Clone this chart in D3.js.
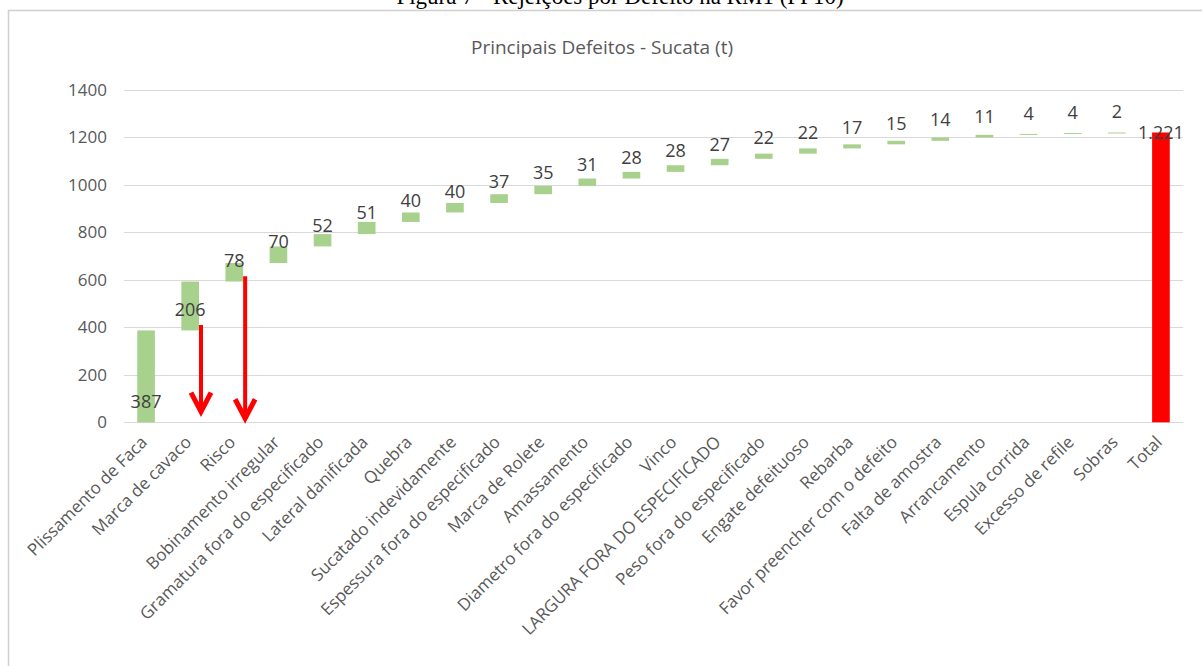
<!DOCTYPE html>
<html>
<head>
<meta charset="utf-8">
<script src="https://cdn.jsdelivr.net/npm/d3@7"></script>
<style>
  body { margin: 0; background: #fff; }
  svg { display: block; }
  .grid line { stroke: #d9d9d9; stroke-width: 1; }
  .tick-label { fill: #595959; font-family: "Open Sans", sans-serif; }
  .value { fill: #404040; font-family: "Open Sans", sans-serif; font-size: 18px; }
  .caption { font-family: "Liberation Serif", "Times New Roman", serif; font-size: 23px; fill: #000; }
</style>
</head>
<body>
<svg id="chart"></svg>
<script>
  //begin: data
  var categories = ["Plissamento de Faca", "Marca de cavaco", "Risco", "Bobinamento irregular",
    "Gramatura fora do especificado", "Lateral danificada", "Quebra", "Sucatado indevidamente",
    "Espessura fora do especificado", "Marca de Rolete", "Amassamento", "Diametro fora do especificado",
    "Vinco", "LARGURA FORA DO ESPECIFICADO", "Peso fora do especificado", "Engate defeituoso",
    "Rebarba", "Favor preencher com o defeito", "Falta de amostra", "Arrancamento",
    "Espula corrida", "Excesso de refile", "Sobras"];
  var values = [387, 206, 78, 70, 52, 51, 40, 40, 37, 35, 31, 28, 28, 27, 22, 22, 17, 15, 14, 11, 4, 4, 2];
  var totalLabel = "Total";
  var yTicks = [0, 200, 400, 600, 800, 1000, 1200, 1400];
  // red annotation arrows: category, start value, end value
  var arrowCats = ["Marca de cavaco", "Risco"];
  var arrowFrom = [410, 615];
  var arrowTo = [45, 17];
  //end: data

  //begin: layout conf.
  var svgWidth = 1202,
      svgHeight = 666,
      plotLeft = 124,
      plotRight = 1183,
      plotTop = 90,
      plotBottom = 422.3;
  //end: layout conf.

  var svg = d3.select("#chart")
    .attr("width", svgWidth)
    .attr("height", svgHeight);

  // cumulative bases
  var rows = [], running = 0;
  values.forEach(function(v, i) {
    rows.push({name: categories[i], base: running, top: running + v, value: v});
    running += v;
  });
  var total = running;

  var x = d3.scaleBand()
    .domain(categories.concat([totalLabel]))
    .range([plotLeft, plotRight])
    .paddingInner(0.6)
    .paddingOuter(0.3);

  var y = d3.scaleLinear()
    .domain([0, 1400])
    .range([plotBottom, plotTop]);

  // caption above the chart box (cut by the page top, as in the source)
  svg.append("text")
    .classed("caption", true)
    .attr("x", 620)
    .attr("y", 4)
    .attr("text-anchor", "middle")
    .text("Figura 7 - Rejeições por Defeito na RM1 (PP10)");

  // chart box
  svg.append("rect")
    .attr("x", 8.5)
    .attr("y", 10.5)
    .attr("width", svgWidth + 10)
    .attr("height", svgHeight + 10)
    .attr("fill", "#fff")
    .attr("stroke", "#d0d0d0")
    .attr("stroke-width", 1.5);

  // title
  svg.append("text")
    .attr("x", 602)
    .attr("y", 54)
    .attr("text-anchor", "middle")
    .style("font-family", "Open Sans, sans-serif")
    .style("font-size", "19px")
    .style("fill", "#595959")
    .text("Principais Defeitos - Sucata (t)");

  // gridlines
  svg.append("g")
    .classed("grid", true)
    .selectAll("line")
    .data(yTicks)
    .enter().append("line")
      .attr("x1", plotLeft)
      .attr("x2", plotRight)
      .attr("y1", function(d){ return Math.round(y(d)) + 0.5; })
      .attr("y2", function(d){ return Math.round(y(d)) + 0.5; });

  // y axis labels
  var yAxis = d3.axisLeft(y).tickValues(yTicks).tickSize(0).tickPadding(17)
    .tickFormat(d3.format("d"));
  var yAxisG = svg.append("g")
    .attr("transform", "translate(" + [plotLeft, 0] + ")")
    .call(yAxis);
  yAxisG.select(".domain").remove();
  yAxisG.selectAll("text")
    .attr("class", "tick-label")
    .style("font-size", "17px");

  // bars
  svg.append("g")
    .selectAll("rect")
    .data(rows)
    .enter().append("rect")
      .attr("x", function(d){ return x(d.name); })
      .attr("width", x.bandwidth())
      .attr("y", function(d){ return y(d.top); })
      .attr("height", function(d){ return Math.max(1, y(d.base) - y(d.top)); })
      .attr("fill", "#a9d18e");

  svg.append("rect")
    .attr("x", x(totalLabel))
    .attr("width", x.bandwidth())
    .attr("y", y(total))
    .attr("height", y(0) - y(total))
    .attr("fill", "#ff0000");

  // value labels (inside base)
  svg.append("g")
    .selectAll("text")
    .data(rows)
    .enter().append("text")
      .classed("value", true)
      .attr("x", function(d){ return x(d.name) + x.bandwidth() / 2; })
      .attr("y", function(d){ return y(d.base) - 21; })
      .attr("dy", "0.35em")
      .attr("text-anchor", "middle")
      .text(function(d){ return d.value; });

  svg.append("text")
    .classed("value", true)
    .attr("x", x(totalLabel) + x.bandwidth() / 2)
    .attr("y", y(total))
    .attr("dy", "0.35em")
    .attr("text-anchor", "middle")
    .text(d3.format(",")(total).replace(",", "."));

  // category labels
  svg.append("g")
    .selectAll("text")
    .data(x.domain())
    .enter().append("text")
      .attr("class", "tick-label")
      .style("font-size", "17px")
      .attr("text-anchor", "end")
      .attr("transform", function(d){
        return "translate(" + [x(d) + x.bandwidth() / 2 - 2, 439] + ") rotate(-45)";
      })
      .attr("dy", "0.35em")
      .text(function(d){ return d; });

  // red arrows
  var arrows = svg.append("g")
    .selectAll("g")
    .data(arrowCats)
    .enter().append("g")
      .attr("stroke", "#ff0000")
      .attr("fill", "none");

  arrows.append("line")
    .attr("x1", function(d){ return x(d) + x.bandwidth() + 2; })
    .attr("x2", function(d){ return x(d) + x.bandwidth() + 2; })
    .attr("y1", function(d, i){ return y(arrowFrom[i]); })
    .attr("y2", function(d, i){ return y(arrowTo[i]) - 2; })
    .attr("stroke-width", 4);

  arrows.append("path")
    .attr("stroke-width", 5)
    .attr("stroke-linejoin", "miter")
    .attr("d", function(d, i){
      var cx = x(d) + x.bandwidth() + 2, ty = y(arrowTo[i]);
      return "M" + [cx - 10, ty - 19] + "L" + [cx, ty] + "L" + [cx + 10, ty - 19];
    });
</script>
</body>
</html>
